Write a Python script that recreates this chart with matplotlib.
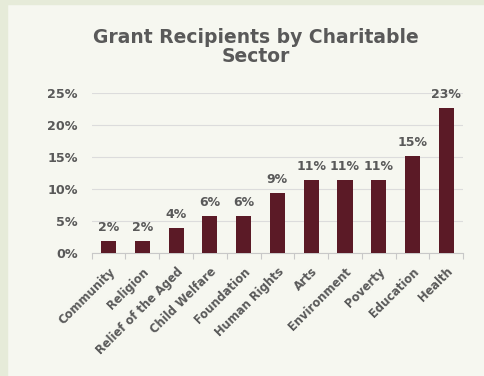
import matplotlib
matplotlib.use("Agg")
import matplotlib.pyplot as plt
from matplotlib.patches import Rectangle

sectors = ["Community", "Religion", "Relief of the Aged", "Child Welfare",
           "Foundation", "Human Rights", "Arts", "Environment", "Poverty",
           "Education", "Health"]
share = [1.9, 1.9, 3.8, 5.7, 5.7, 9.4, 11.3, 11.3, 11.3, 15.1, 22.6]
yticks = [0, 5, 10, 15, 20, 25]
title_lines = ["Grant Recipients by Charitable", "Sector"]

bar_color = "#5b1a26"
text_color = "#595959"
plt.rcParams["font.family"] = ["DejaVu Sans"]

fig = plt.figure(figsize=(4.85, 3.76), dpi=100, facecolor="#f6f7f0")
# slide frame bands
fig.patches.append(Rectangle((0, 0), 7 / 485, 1, transform=fig.transFigure,
                             color="#e6ebd9", zorder=0))
fig.patches.append(Rectangle((0, 1 - 4 / 376), 1, 4 / 376, transform=fig.transFigure,
                             color="#e6ebd9", zorder=0))

ax = fig.add_axes([0.189, 0.328, 0.766, 0.4255])
ax.set_facecolor("none")

x = range(len(sectors))
ax.bar(x, share, width=0.45, color=bar_color, zorder=3)
for i, v in enumerate(share):
    ax.text(i, v + 1.55, f"{round(v):.0f}%", ha="center", va="baseline",
            fontsize=9, fontweight="bold", color=text_color)

ax.set_xlim(-0.5, len(sectors) - 0.5)
ax.set_ylim(0, 25)
ax.set_yticks(yticks)
ax.set_yticklabels([f"{t}%" for t in yticks], fontsize=9.2,
                   fontweight="bold", color=text_color)
ax.yaxis.grid(True, color="#dcdcdc", linewidth=0.8, zorder=0)
ax.tick_params(axis="y", length=0, pad=10)

ax.set_xticks(list(x))
ax.set_xticklabels(sectors, rotation=45, ha="right", rotation_mode="anchor",
                   fontsize=8.3, fontweight="bold", color=text_color)
ax.tick_params(axis="x", length=0, pad=9)
ax.set_xticks([i - 0.5 for i in range(len(sectors) + 1)], minor=True)
ax.tick_params(axis="x", which="minor", length=4, color="#c8c8c8", width=0.8)

for side in ["top", "right", "left"]:
    ax.spines[side].set_visible(False)
ax.spines["bottom"].set_color("#c8c8c8")
ax.spines["bottom"].set_linewidth(0.8)

# two-line title, placed by baseline
for line, ypos in zip(title_lines, [0.886, 0.835]):
    fig.text(0.528, ypos, line, ha="center", va="baseline", fontsize=13.5,
             fontweight="bold", color=text_color)

fig.savefig("out.png", dpi=100, facecolor=fig.get_facecolor())
